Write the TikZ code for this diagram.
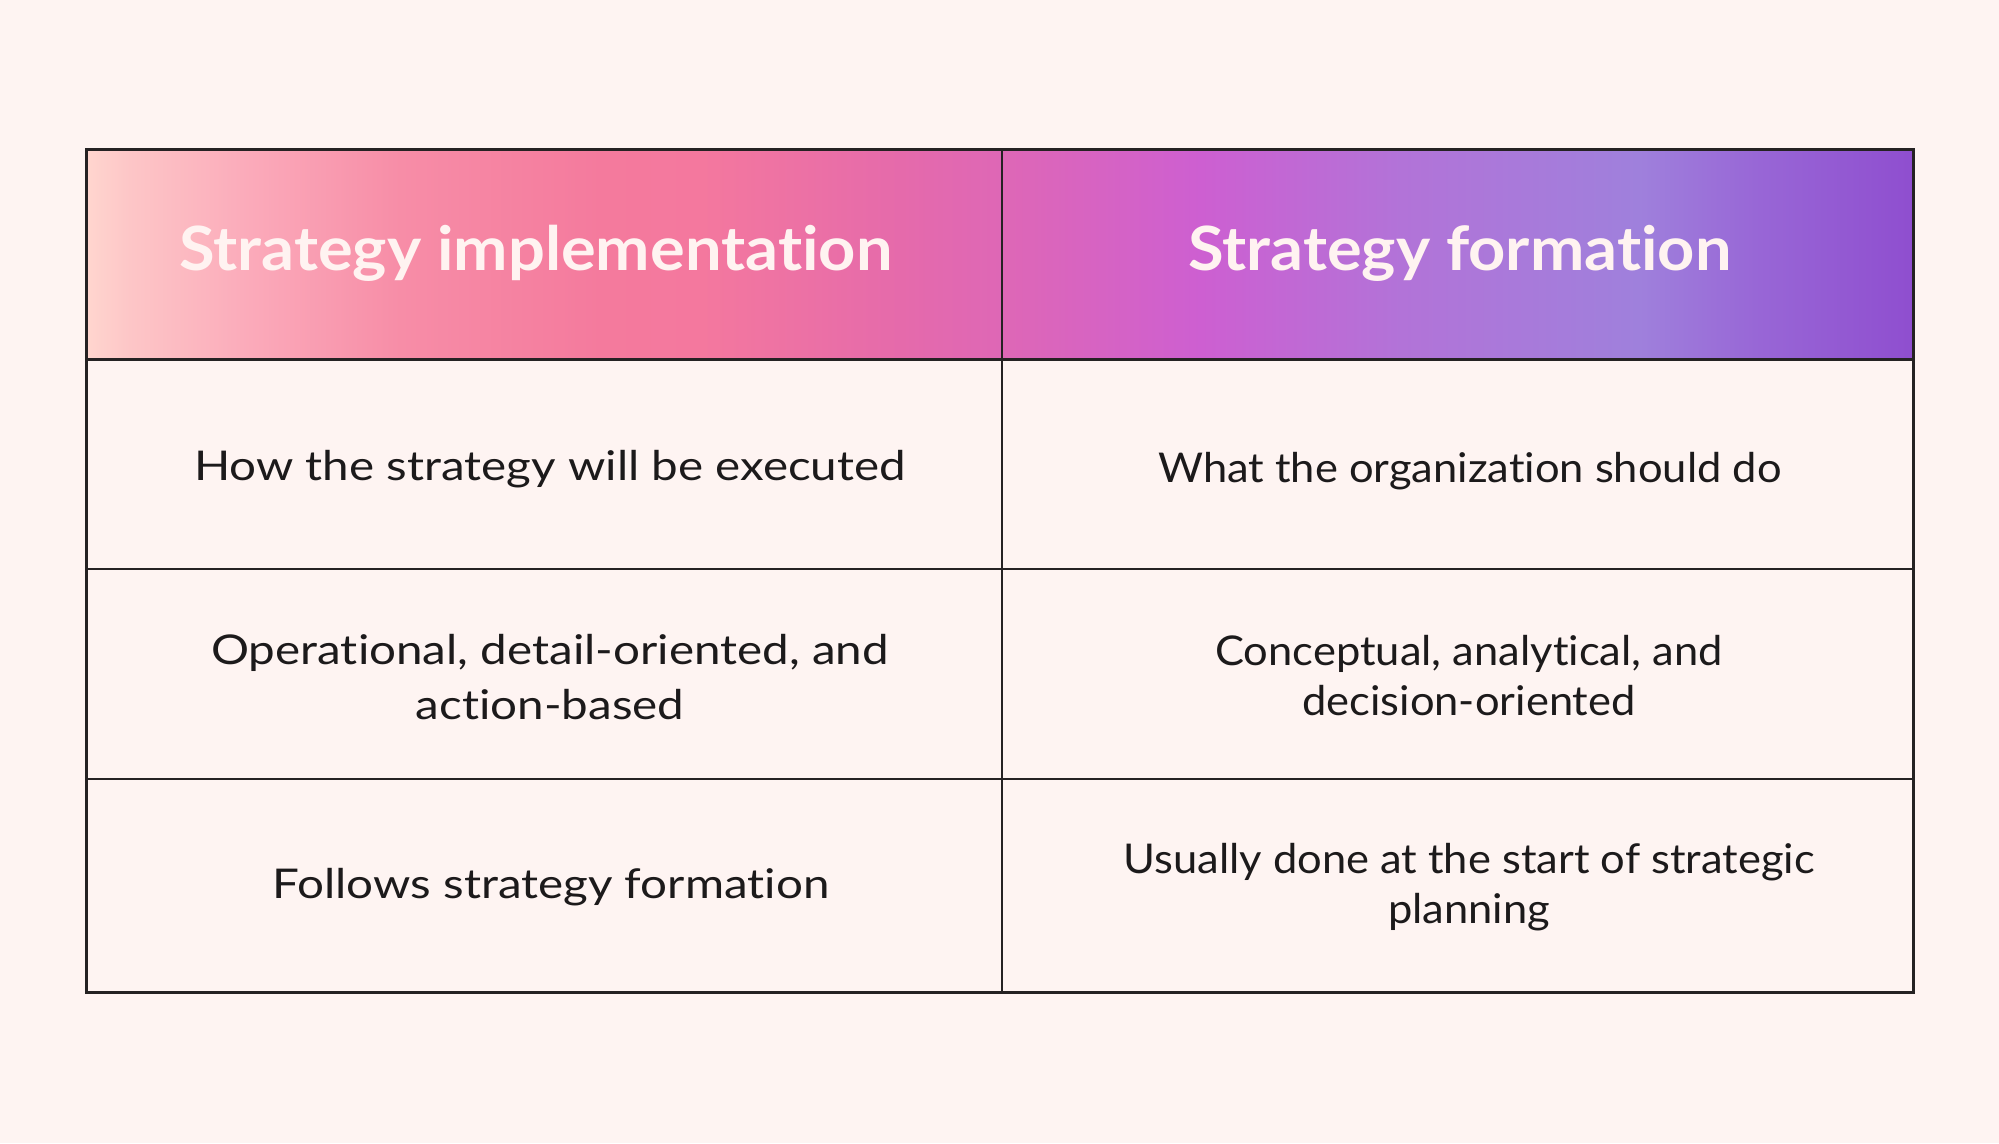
\documentclass[tikz,border=0pt]{standalone}
\usepackage{fontspec}
\setmainfont{Lato}[Ligatures=NoCommon]
\newfontfamily\leftfont{Lato}[FakeStretch=1.16, Ligatures=NoCommon]
\newfontfamily\rightfont{Lato}[FakeStretch=1.06, Ligatures=NoCommon]
\newfontfamily\headfont{Lato}[FakeStretch=1.065, Ligatures=NoCommon]
\definecolor{bg}{HTML}{FEF4F2}
\definecolor{ink}{HTML}{1C1A1B}
\definecolor{rule}{HTML}{252223}
\definecolor{htext}{HTML}{FFF3F1}
\definecolor{ga}{HTML}{FFD6CF}
\definecolor{gb}{HTML}{FDC6C7}
\definecolor{gc}{HTML}{FBAABA}
\definecolor{gd}{HTML}{F78DA7}
\definecolor{ge}{HTML}{F47A9D}
\definecolor{gf}{HTML}{F4789E}
\definecolor{gg}{HTML}{E56AAB}
\definecolor{gh}{HTML}{DE67B6}
\definecolor{gi}{HTML}{D663C3}
\definecolor{gj}{HTML}{CD5FD1}
\definecolor{gk}{HTML}{B273D8}
\definecolor{gl}{HTML}{9F80DC}
\definecolor{gm}{HTML}{9866D6}
\definecolor{gn}{HTML}{8F4ECF}
\pgfdeclarehorizontalshading{hdrshade}{100bp}{color(0bp)=(ga); color(25bp)=(ga); color(26.2bp)=(gb); color(29.5bp)=(gc); color(33.6bp)=(gd); color(39.1bp)=(ge); color(41.8bp)=(gf); color(47.3bp)=(gg); color(50.1bp)=(gh); color(52.8bp)=(gi); color(55.5bp)=(gj); color(61bp)=(gk); color(67.5bp)=(gl); color(70.8bp)=(gm); color(75bp)=(gn); color(100bp)=(gn)}
\tikzset{
  headtxt/.style={font=\headfont\fontsize{61}{70}\selectfont\bfseries, text=htext, inner sep=0pt},
  leftcell/.style={font=\leftfont\fontsize{41}{55}\selectfont, text=ink, align=center, inner sep=0pt},
  rightcell/.style={font=\rightfont\fontsize{41}{50}\selectfont, text=ink, align=center, inner sep=0pt},
  frame/.style={draw=rule, line width=3pt},
  inner/.style={draw=rule, line width=2pt}
}
\begin{document}
\begin{tikzpicture}[x=1pt,y=-1pt]
\fill[bg] (0,0) rectangle (1999,1143);
\useasboundingbox (0,0) rectangle (1999,1143);
\shade[shading=hdrshade] (86,149) rectangle (1913,359);
% inner lines
\draw[inner] (1002,149) -- (1002,992);
\draw[inner] (86,569) -- (1913,569);
\draw[inner] (86,779) -- (1913,779);
\draw[frame] (86,359) -- (1913,359);
\draw[frame] (86,149) rectangle (1913,992);
% header
\node[headtxt] (h1) at (536,253) {Strategy implementation};
\node[headtxt] (h2) at (1460,253) {Strategy formation};
% row 1
\node[leftcell] (a1) at (550,469) {How the strategy will be executed};
\node[rightcell] (b1) at (1470,471) {What the organization should do};
% row 2
\node[leftcell] (a2) at (550,677) {Operational, detail-oriented, and\\action-based};
\node[rightcell] (b2) at (1469,676) {Conceptual, analytical, and\\decision-oriented};
% row 3
\node[leftcell] (a3) at (551,887) {Follows strategy formation};
\node[rightcell] (b3) at (1469,887) {Usually done at the start of strategic\\planning};
\end{tikzpicture}
\end{document}
